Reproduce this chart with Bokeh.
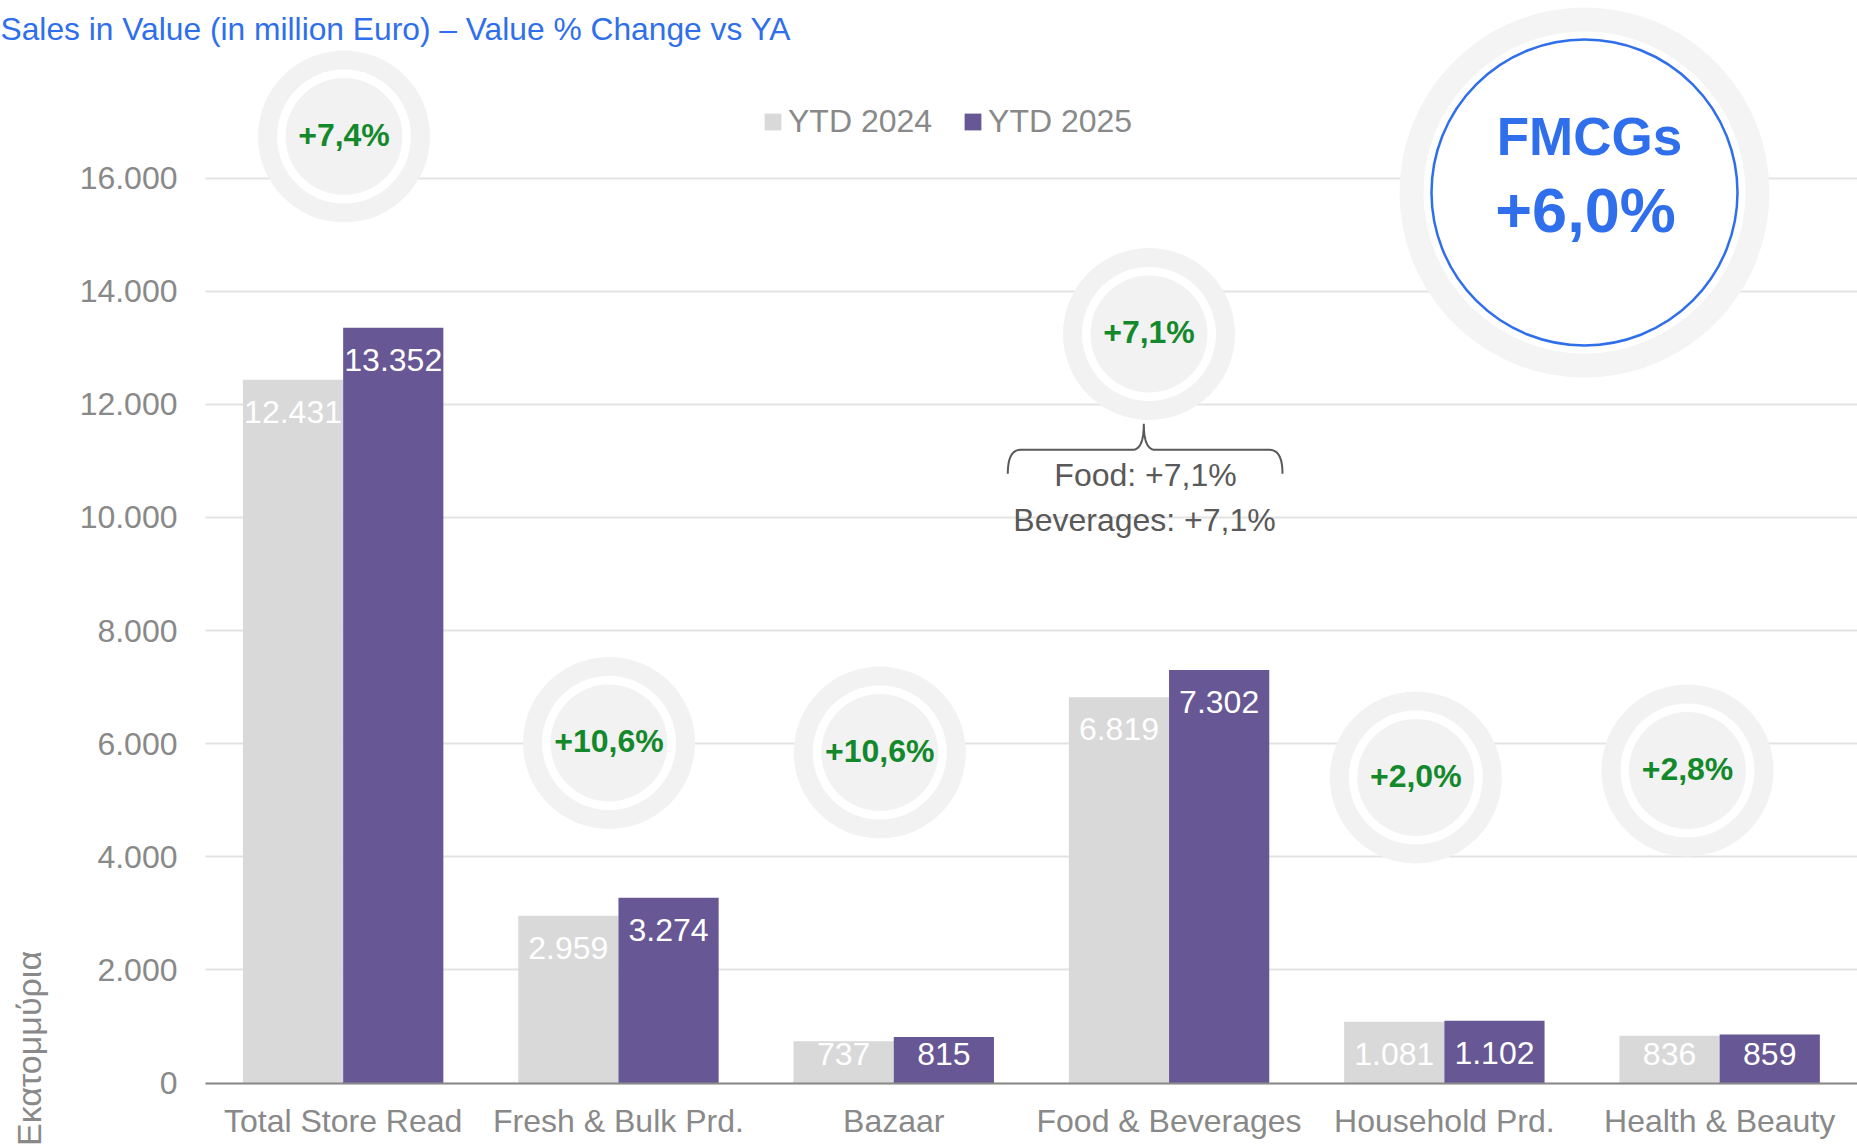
import numpy as np
from bokeh.plotting import figure
from bokeh.models import ColumnDataSource, Range1d, FixedTicker, Label, Legend, LegendItem
from bokeh.core.properties import value
from bokeh.embed import file_html
from bokeh.resources import INLINE

# ---------------- data ----------------
categories = ["Total Store Read", "Fresh & Bulk Prd.", "Bazaar", "Food & Beverages",
              "Household Prd.", "Health & Beauty"]
ytd_2024 = [12431, 2959, 737, 6819, 1081, 836]
ytd_2025 = [13352, 3274, 815, 7302, 1102, 859]
pct_change = ["+7,4%", "+10,6%", "+10,6%", "+7,1%", "+2,0%", "+2,8%"]
series_names = ["YTD 2024", "YTD 2025"]
y_ticks = [0, 2000, 4000, 6000, 8000, 10000, 12000, 14000, 16000]
title_text = "Sales in Value (in million Euro) \u2013 Value % Change vs YA"
y_title = "Εκατομμύρια"
total_label = "FMCGs"
total_change = "+6,0%"
sub_notes = ["Food: +7,1%", "Beverages: +7,1%"]

# ---------------- layout (canvas pixels) ----------------
W, H = 1857, 1146
X0 = 205            # canvas x of the category axis start
ZERO_Y = 1082.5     # canvas y of value 0
CAT_PX = 275.3      # pixels per category
Y_PX = 905.0 / 16000.0
FONT = value("Liberation Sans")
FS = "32px"
GREY_TXT = "#898989"
BLUE = "#2F6FEB"
GREEN = "#13892C"
C24 = "#D9D9D9"
C25 = "#675794"
RING = "#F2F2F2"


def dx(px):
    return (px - X0) / CAT_PX


def dy(py):
    return (ZERO_Y - py) / Y_PX


x_lo, x_hi = dx(0), dx(W)
y_lo, y_hi = dy(H), dy(0)

p = figure(width=W, height=H, output_backend="svg", toolbar_location=None,
           x_range=Range1d(x_lo, x_hi), y_range=Range1d(y_lo, y_hi),
           min_border_left=0, min_border_right=0, min_border_top=0, min_border_bottom=0)
p.outline_line_color = None
p.background_fill_color = "white"
p.border_fill_color = "white"

# axes (drawn at fixed data locations)
idx = np.arange(len(categories))
xa = p.xaxis[0]
xa.fixed_location = 0
xa.bounds = (0, x_hi)
xa.ticker = FixedTicker(ticks=[float(i + 0.5) for i in idx])
xa.major_label_overrides = {float(i + 0.5): c for i, c in zip(idx, categories)}
xa.axis_line_color = "#8A8A8A"
xa.axis_line_width = 2
xa.major_tick_line_color = None
xa.minor_tick_line_color = None
xa.major_label_text_font = "Liberation Sans"
xa.major_label_text_font_size = FS
xa.major_label_text_color = GREY_TXT
xa.major_label_standoff = 14
p.xgrid.grid_line_color = None

ya = p.yaxis[0]
ya.fixed_location = 0
ya.ticker = FixedTicker(ticks=y_ticks)
ya.major_label_overrides = {t: f"{t:,}".replace(",", ".") for t in y_ticks}
ya.axis_line_color = None
ya.major_tick_line_color = None
ya.minor_tick_line_color = None
ya.major_label_text_font = "Liberation Sans"
ya.major_label_text_font_size = FS
ya.major_label_text_color = GREY_TXT
ya.major_label_standoff = 22
p.ygrid.grid_line_color = "#E3E3E3"
p.ygrid.grid_line_width = 2

# mask the grid lines left of the plot area
p.quad(left=[x_lo], right=[0], bottom=[y_lo], top=[y_hi], fill_color="white", line_color=None)

# bars
BW = 0.364
fmt = lambda v: f"{v:,}".replace(",", ".")
lab_y = lambda v: max(v - 32 / Y_PX, 29.5 / Y_PX)
src = ColumnDataSource(dict(
    x24=[float(i + 0.5 - BW / 2) for i in idx], x25=[float(i + 0.5 + BW / 2) for i in idx],
    v24=ytd_2024, v25=ytd_2025,
    t24=[fmt(v) for v in ytd_2024], t25=[fmt(v) for v in ytd_2025],
    l24=[lab_y(v) for v in ytd_2024], l25=[lab_y(v) for v in ytd_2025],
))
r24 = p.vbar(x="x24", top="v24", width=BW, source=src, fill_color=C24, line_color=None)
r25 = p.vbar(x="x25", top="v25", width=BW, source=src, fill_color=C25, line_color=None)
for xs, ys, ts in (("x24", "l24", "t24"), ("x25", "l25", "t25")):
    p.text(x=xs, y=ys, text=ts, source=src, text_align="center", text_baseline="middle",
           text_font=FONT, text_font_size=FS, text_color="white")

# legend
legend = Legend(items=[LegendItem(label=series_names[0], renderers=[r24]),
                       LegendItem(label=series_names[1], renderers=[r25])],
                orientation="horizontal", location=(762, 1006),
                glyph_width=21, glyph_height=21, label_standoff=5, spacing=30,
                label_text_font="Liberation Sans", label_text_font_size=FS,
                label_text_color=GREY_TXT, border_line_color=None,
                background_fill_color=None, padding=0, margin=0)
p.add_layout(legend)

# percent-change badges (canvas pixel positions)
badge_px = [(343.5, 136), (608.5, 742.5), (879.3, 752), (1148.5, 333.5), (1415.3, 777), (1687, 770)]
bsrc = ColumnDataSource(dict(x=[dx(a) for a, b in badge_px], y=[dy(b) for a, b in badge_px],
                             t=pct_change))
p.scatter(x="x", y="y", source=bsrc, size=2 * 86, marker="circle", fill_color=RING, line_color=None)
p.scatter(x="x", y="y", source=bsrc, size=2 * 67, marker="circle", fill_color="white", line_color=None)
p.scatter(x="x", y="y", source=bsrc, size=2 * 58.5, marker="circle", fill_color=RING, line_color=None)
p.text(x="x", y="y", text="t", source=bsrc, text_align="center", text_baseline="middle",
       y_offset=-2, text_font=FONT, text_font_size=FS, text_font_style="bold", text_color=GREEN)

# FMCGs badge
fx, fy = dx(1584), dy(192)
p.scatter(x=[fx], y=[fy], size=2 * 185, marker="circle", fill_color="#F4F4F4", line_color=None)
p.scatter(x=[fx], y=[fy], size=2 * 161, marker="circle", fill_color="white", line_color=None)
p.scatter(x=[fx], y=[fy], size=2 * 153, marker="circle", fill_color="white", line_color=BLUE, line_width=2.5)
p.text(x=[dx(1589)], y=[dy(136)], text=[total_label], text_align="center", text_baseline="middle",
       text_font=FONT, text_font_size="53px", text_font_style="bold", text_color=BLUE)
p.text(x=[dx(1585)], y=[dy(209)], text=[total_change], text_align="center", text_baseline="middle",
       text_font=FONT, text_font_size="63px", text_font_style="bold", text_color=BLUE)


# curly brace under the Food & Beverages badge
def qbez(p0, c, p1, n=14):
    p0, c, p1 = np.array(p0), np.array(c), np.array(p1)
    return [(1 - s) ** 2 * p0 + 2 * (1 - s) * s * c + s ** 2 * p1 for s in np.linspace(0, 1, n)]


BY, TIPX, TIPY = 449.3, 1143.3, 423.3
pts = []
pts += qbez((1007.3, 473.3), (1007.3, BY), (1020, BY))
pts += [np.array((1132, BY))]
pts += qbez((1132, BY), (TIPX, BY), (TIPX, TIPY))
pts += qbez((TIPX, TIPY), (TIPX, BY), (1154.6, BY))
pts += [np.array((1269, BY))]
pts += qbez((1269, BY), (1282, BY), (1282, 473.3))
p.line(x=[dx(q[0]) for q in pts], y=[dy(q[1]) for q in pts], line_color="#595959", line_width=2)
p.text(x=[dx(1145), dx(1144)], y=[dy(474.5), dy(519.5)], text=sub_notes,
       text_align="center", text_baseline="middle", text_font=FONT, text_font_size=FS,
       text_color="#595959")

# title and y-axis title
p.add_layout(Label(x=dx(0), y=dy(28), text=title_text, text_align="left", text_baseline="middle",
                   text_font="Liberation Sans", text_font_size="31.75px", text_color=BLUE))
p.add_layout(Label(x=dx(28), y=dy(1048), text=y_title, angle=np.pi / 2, text_align="center",
                   text_baseline="middle", text_font="Liberation Sans", text_font_size="34px",
                   text_color=GREY_TXT))

open("out.html", "w").write(file_html(p, INLINE))
